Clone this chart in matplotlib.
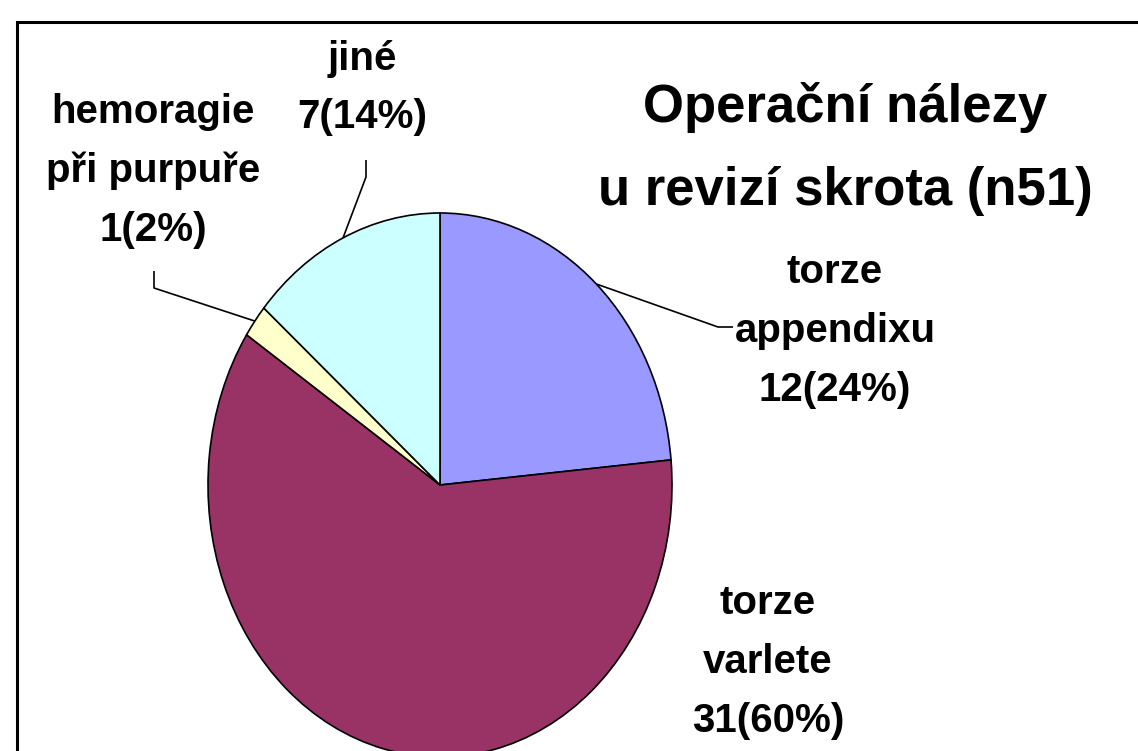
import matplotlib
matplotlib.use("Agg")
import matplotlib.pyplot as plt
from matplotlib.patches import Rectangle
import numpy as np

# ---- data ----
categories = ["torze appendixu", "torze varlete", "hemoragie při purpuře", "jiné"]
label_names = ["torze\nappendixu", "torze\nvarlete", "hemoragie\npři purpuře", "jiné"]
counts = [12, 31, 1, 7]
percents = [24, 60, 2, 14]
colors = ["#9999FF", "#993366", "#FFFFCC", "#CCFFFF"]
title = "Operační nálezy\nu revizí skrota (n51)"

FONT = ["Liberation Sans", "DejaVu Sans"]
plt.rcParams["font.family"] = FONT

W, H = 1138, 751
fig = plt.figure(figsize=(W / 100, H / 100), dpi=100)
ax = fig.add_axes([0, 0, 1, 1])

# pie geometry in pixels (elliptical pie)
cx, cy, rx, ry = 440, 485, 232, 272

wedges, _ = ax.pie(counts, colors=colors, startangle=90, counterclock=False,
                   wedgeprops=dict(edgecolor="black", linewidth=1.2))
ax.set_aspect("auto")
ax.set_xlim(-cx / rx, (W - cx) / rx)
ax.set_ylim(-(H - cy) / ry, cy / ry)
ax.axis("off")


def p2d(px, py):
    return ((px - cx) / rx, (cy - py) / ry)


# label centres and leader elbows (pixels)
label_pos = [(835, 331), (768, 662), (153, 171), (362, 88)]
elbows = [[(718, 327), (733, 327)], None, [(154, 288), (154, 271)], [(366, 177), (366, 160)]]

for i, w in enumerate(wedges):
    ang = np.deg2rad((w.theta1 + w.theta2) / 2)
    sx, sy = np.cos(ang), np.sin(ang)
    txt = f"{label_names[i]}\n{counts[i]}({percents[i]}%)"
    lx, ly = p2d(*label_pos[i])
    ax.text(lx, ly, txt, ha="center", va="center", fontsize=29, fontweight="bold",
            linespacing=1.70, family=FONT)
    if elbows[i] is not None:
        pts = [(sx, sy)] + [p2d(*p) for p in elbows[i]]
        xs, ys = zip(*pts)
        ax.plot(xs, ys, color="black", linewidth=1.2, solid_capstyle="butt")

tx, ty = p2d(845, 149)
ax.text(tx, ty, title, ha="center", va="center", fontsize=38, fontweight="bold",
        linespacing=1.87, family=FONT)

# outer frame (extends beyond right and bottom edges)
fig.patches.append(Rectangle((17 / W, -0.1), 1.2, (H - 22) / H + 0.1,
                             transform=fig.transFigure, fill=False,
                             edgecolor="black", linewidth=2.2))

fig.savefig("out.png", dpi=100)
